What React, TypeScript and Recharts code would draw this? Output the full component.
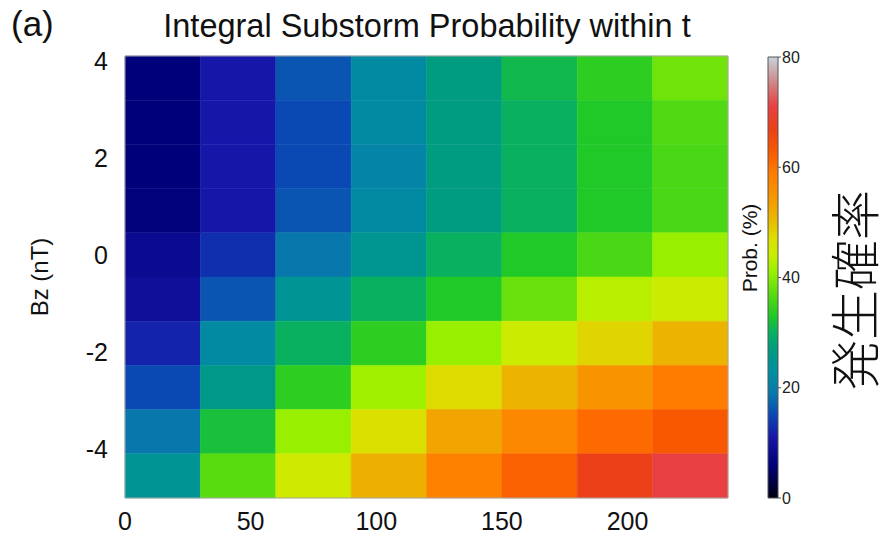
import React from "react"
import { ComposedChart, XAxis, YAxis, Scatter, ReferenceArea } from "recharts"

// time bins (t) and Bz bins, top to bottom
const tEdges = [0, 30, 60, 90, 120, 150, 180, 210, 240]
const bzEdges = [4.1, 3.19, 2.28, 1.37, 0.46, -0.45, -1.36, -2.27, -3.18, -4.09, -5]
const xTicks = [0, 50, 100, 150, 200]
const yTicks = [-4, -2, 0, 2, 4]
const cbarTicks = [0, 20, 40, 60, 80]

// probability (%) per Bz row (top row first), one value per t bin
const probRow1 = [6, 11, 16, 22, 27, 31, 34, 38.5]
const probRow2 = [6, 11, 15, 22, 27, 30, 33, 36.5]
const probRow3 = [6, 11, 15, 21, 27, 30, 33, 36]
const probRow4 = [6.2, 11, 16, 22, 27, 30, 33, 36]
const probRow5 = [8.5, 13, 19, 25, 30, 33, 36, 41]
const probRow6 = [9.5, 16, 24.5, 30, 33, 38, 43, 44.5]
const probRow7 = [12, 22, 30, 34, 41, 44.5, 48, 51]
const probRow8 = [15, 26, 34, 41.5, 47.5, 51, 55, 59]
const probRow9 = [19, 32, 41, 47, 53, 57, 61, 63]
const probRow10 = [24.5, 37, 45, 51.5, 58, 62, 67, 71]
const probRows = [probRow1, probRow2, probRow3, probRow4, probRow5, probRow6, probRow7, probRow8, probRow9, probRow10]

// colormap stops
const cmapValues = [0, 6, 11, 15, 19, 23, 27, 30, 33, 37, 41, 44, 47, 51, 55, 59, 63, 67, 71, 75, 80]
const cmapColors = [
  "#000010", "#00007a", "#1616a8", "#0a48b4", "#0878ac", "#0090a0", "#009c80",
  "#08b060", "#20c828", "#58dc10", "#98f000", "#c8ee00", "#dce000", "#ecb400",
  "#f89400", "#ff7c00", "#f85800", "#ec4018", "#e84040", "#d08080", "#c8d4dc",
]

const FONT = '"Liberation Sans", Arial, sans-serif'

function hexToRgb(h: string) {
  const n = parseInt(h.slice(1), 16)
  return [(n >> 16) & 255, (n >> 8) & 255, n & 255]
}

function colorFor(v: number) {
  if (v <= cmapValues[0]) return cmapColors[0]
  for (let i = 1; i < cmapValues.length; i++) {
    if (v <= cmapValues[i]) {
      const f = (v - cmapValues[i - 1]) / (cmapValues[i] - cmapValues[i - 1])
      const a = hexToRgb(cmapColors[i - 1])
      const b = hexToRgb(cmapColors[i])
      const c = a.map((x, k) => Math.round(x + (b[k] - x) * f))
      return `rgb(${c[0]},${c[1]},${c[2]})`
    }
  }
  return cmapColors[cmapColors.length - 1]
}

const cells = probRows.flatMap((row, r) =>
  row.map((p, c) => ({
    t0: tEdges[c],
    t1: tEdges[c + 1],
    bTop: bzEdges[r],
    bBot: bzEdges[r + 1],
    t: (tEdges[c] + tEdges[c + 1]) / 2,
    bz: (bzEdges[r] + bzEdges[r + 1]) / 2,
    p,
  }))
)

const textStyle: React.CSSProperties = {
  position: "absolute",
  fontFamily: FONT,
  color: "#111",
  whiteSpace: "nowrap",
  lineHeight: 1,
}

export default function App() {
  return (
    <div style={{ position: "absolute", left: 0, top: 0, width: 887, height: 536, background: "#fff", overflow: "hidden" }}>
      <ComposedChart width={887} height={536} margin={{ top: 56, right: 159, bottom: 8, left: 65 }}>
        <XAxis
          type="number"
          dataKey="t"
          domain={[0, 240]}
          ticks={xTicks}
          allowDataOverflow
          height={30}
          tickLine={false}
          axisLine={false}
          tickMargin={8}
          tick={{ fill: "#111", fontSize: 25, fontFamily: FONT }}
        />
        <YAxis
          type="number"
          dataKey="bz"
          domain={[-5, 4.1]}
          ticks={yTicks}
          allowDataOverflow
          width={60}
          tickLine={false}
          axisLine={false}
          tickMargin={11}
          tick={{ fill: "#111", fontSize: 25, fontFamily: FONT }}
        />
        {cells.map((c, i) => (
          <ReferenceArea
            key={i}
            x1={c.t0}
            x2={c.t1}
            y1={c.bBot}
            y2={c.bTop}
            fill={colorFor(c.p)}
            fillOpacity={1}
            stroke={colorFor(c.p)}
            strokeWidth={0.5}
          />
        ))}
        <ReferenceArea x1={0} x2={240} y1={-5} y2={4.1} fill="none" stroke="#a8a8a8" strokeWidth={1} />
        <Scatter data={cells} dataKey="bz" shape={() => <g />} isAnimationActive={false} />
      </ComposedChart>

      <div style={{ position: "absolute", left: 760, top: 0 }}>
        <ComposedChart width={60} height={536} margin={{ top: 57, right: 2, bottom: 38, left: 8 }}>
          <defs>
            <linearGradient id="cbarGrad" x1="0" y1="0" x2="0" y2="1">
              {cmapValues.map((v, i) => (
                <stop key={i} offset={`${(1 - v / 80) * 100}%`} stopColor={cmapColors[i]} />
              )).reverse()}
            </linearGradient>
          </defs>
          <XAxis type="number" dataKey="x" domain={[0, 1]} hide />
          <YAxis
            type="number"
            dataKey="y"
            orientation="right"
            domain={[0, 80]}
            ticks={cbarTicks}
            width={40}
            axisLine={false}
            tickSize={3}
            tickLine={{ stroke: "#555" }}
            tickMargin={1}
            tick={{ fill: "#222", fontSize: 16, fontFamily: FONT }}
          />
          <ReferenceArea x1={0} x2={1} y1={0} y2={80} fill="url(#cbarGrad)" fillOpacity={1} stroke="#555" strokeWidth={1} />
          <Scatter data={[{ x: 0.5, y: 40 }]} dataKey="y" shape={() => <g />} isAnimationActive={false} />
        </ComposedChart>
      </div>

      <div style={{ ...textStyle, left: 11, top: 6, fontSize: 35 }}>(a)</div>
      <div style={{ ...textStyle, left: 427, top: 10, fontSize: 32.5, transform: "translateX(-50%)" }}>
        Integral Substorm Probability within t
      </div>
      <div style={{ ...textStyle, left: 40, top: 277, fontSize: 24, transform: "translate(-50%, -50%) rotate(-90deg)" }}>
        Bz (nT)
      </div>
      <div style={{ ...textStyle, left: 749, top: 248, fontSize: 21, transform: "translate(-50%, -50%) rotate(-90deg)" }}>
        Prob. (%)
      </div>
      <div
        style={{
          ...textStyle,
          left: 852,
          top: 290,
          fontSize: 50,
          fontFamily: '"Noto Sans CJK JP", sans-serif',
          fontWeight: 300,
          transform: "translate(-50%, -50%) rotate(-90deg)",
        }}
      >
        発生確率
      </div>
    </div>
  )
}
